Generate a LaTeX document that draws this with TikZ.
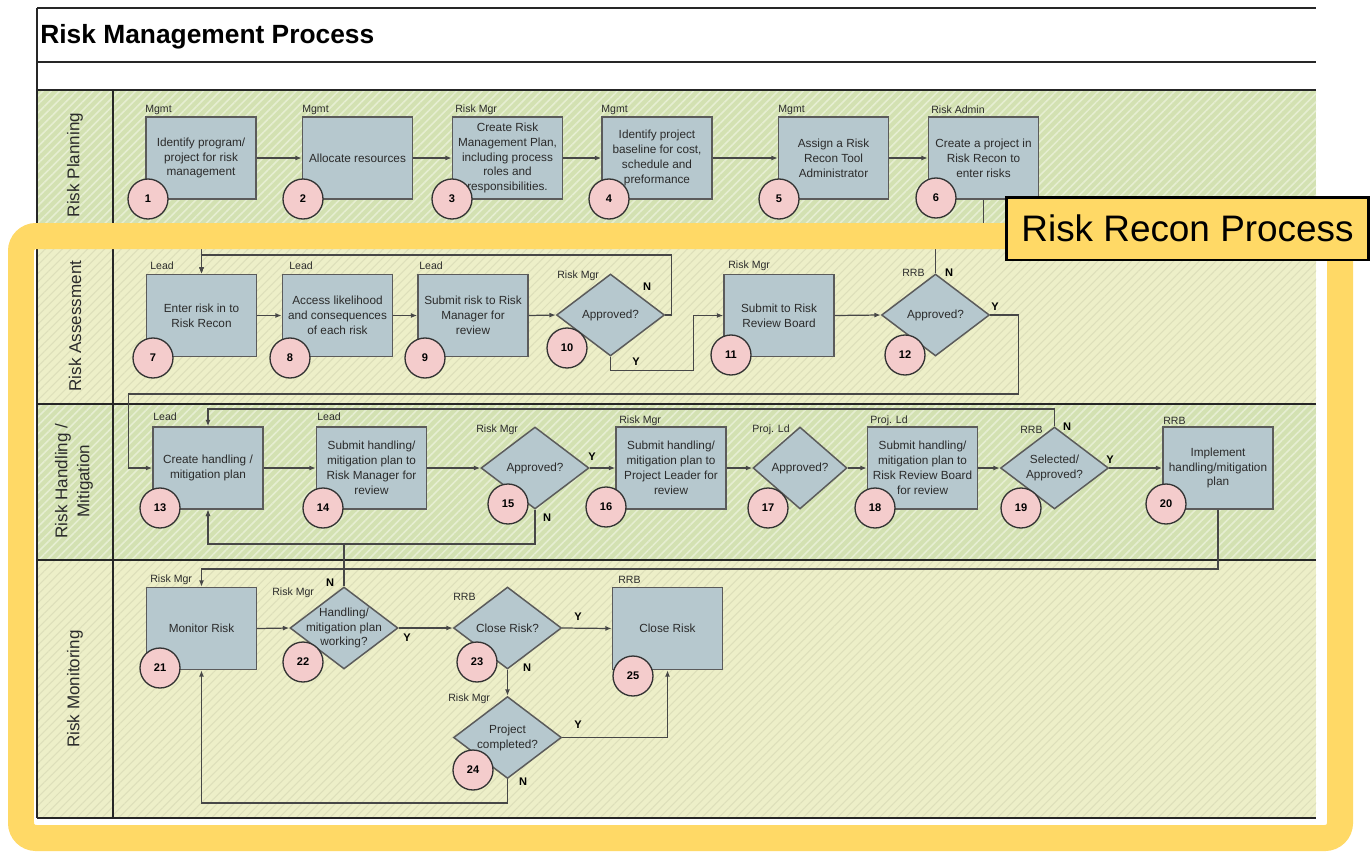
\documentclass[tikz,border=0pt]{standalone}
\usepackage{fontspec}
\setmainfont{Liberation Sans}
\usepackage{tikz}
\usetikzlibrary{shapes.geometric, arrows.meta, patterns.meta}
\definecolor{taskfill}{HTML}{B6C8CE}
\definecolor{taskline}{HTML}{5B5B5B}
\definecolor{numfill}{HTML}{F4CCCC}
\definecolor{flowline}{HTML}{474747}
\definecolor{inktext}{HTML}{2B2B2B}
\definecolor{lanegreen}{HTML}{D3E1B2}
\definecolor{stripegreen}{HTML}{E6EED2}
\definecolor{laneyellow}{HTML}{EDEFC8}
\definecolor{stripeyellow}{HTML}{DDDFBA}
\definecolor{reconyellow}{HTML}{FFD966}
\tikzstyle{task} = [rectangle, draw=taskline, line width=0.85pt, fill=taskfill,
                 minimum width=2.2cm, minimum height=1.64cm, inner sep=1pt,
                 align=center, text=inktext, font=\fontsize{6.7}{8.5}\selectfont]
\tikzstyle{decision} = [diamond, draw=taskline, line width=0.85pt, fill=taskfill,
                 minimum width=2.16cm, minimum height=1.64cm, inner sep=0pt]
\tikzstyle{flow} = [draw=flowline, line width=0.7pt, -{Latex[length=3.6pt,width=2.8pt]}]
\tikzset{
	stepnum/.style={circle, draw=black!80, line width=0.75pt, fill=numfill,
		minimum size=0.8cm, inner sep=0pt, font=\bfseries\fontsize{6.3}{7}\selectfont},
	role/.style={anchor=west, inner sep=0pt, text=inktext, font=\fontsize{6}{7}\selectfont},
	yn/.style={inner sep=0pt, font=\bfseries\fontsize{6.3}{7}\selectfont},
	asks/.style={label={[align=center, inner sep=0pt, text=inktext,
		font=\fontsize{6.7}{8.5}\selectfont]center:#1}},
	greenlane/.style={preaction={fill=lanegreen},
		pattern={Lines[angle=45,distance=3.4pt,line width=0.9pt]}, pattern color=stripegreen},
	yellowlane/.style={preaction={fill=laneyellow},
		pattern={Lines[angle=45,distance=3.4pt,line width=0.6pt]}, pattern color=stripeyellow},
	lanename/.style={rotate=90, align=center, text=inktext, font=\fontsize{9.7}{12.5}\selectfont},
	rule/.style={line width=0.8pt, black!85},
}

\begin{document}
\begin{tikzpicture}[x=0.02cm, y=-0.02cm]
\useasboundingbox (0,0) rectangle (1372,852);
\fill[white] (0,0) rectangle (1372,852);

% swim lanes
\path[greenlane] (37,90) rectangle (1316,243);
\path[yellowlane] (37,243) rectangle (1316,404);
\path[greenlane] (37,404) rectangle (1316,560);
\path[yellowlane] (37,560) rectangle (1316,818);
\foreach \y in {8, 62, 90, 243, 404, 560, 818}
	\draw[rule] (37,\y) -- (1316,\y);
\draw[rule] (37,8) -- (37,818);
\draw[rule] (113,90) -- (113,818);

\node [anchor=base west, inner sep=0pt, font=\bfseries\fontsize{15}{18}\selectfont]
	at (40,43) (title) {Risk Management Process};
\node [lanename] at (75,165) (lane1) {Risk Planning};
\node [lanename] at (75,326) (lane2) {Risk Assessment};
\node [lanename] at (74,481) (lane3) {Risk Handling /\\Mitigation};
\node [lanename] at (75,689) (lane4) {Risk Monitoring};

% planning
\node [task] at (201,158) (n1) {Identify program/\\project for risk\\management};
\node [task] at (357.5,158) (n2) {Allocate resources};
\node [task] at (507.5,158) (n3) {Create Risk\\Management Plan,\\including process\\roles and\\responsibilities.};
\node [task] at (657,158) (n4) {Identify project\\baseline for cost,\\schedule and\\preformance};
\node [task] at (833.5,158) (n5) {Assign a Risk\\Recon Tool\\Administrator};
\node [task] at (983.5,158) (n6) {Create a project in\\Risk Recon to\\enter risks};

% assessment
\node [task] at (201.5,315.5) (n7) {Enter risk in to\\Risk Recon};
\node [task] at (337.5,315.5) (n8) {Access likelihood\\and consequences\\of each risk};
\node [task] at (473,315.5) (n9) {Submit risk to Risk\\Manager for\\review};
\node [decision, asks={Approved?}] at (610.5,315) (d10) {};
\node [task] at (779,315.5) (n11) {Submit to Risk\\Review Board};
\node [decision, asks={Approved?}] at (935.5,315) (d12) {};

% handling / mitigation
\node [task] at (208,468) (n13) {Create handling /\\mitigation plan};
\node [task] at (371.5,468) (n14) {Submit handling/\\mitigation plan to\\Risk Manager for\\review};
\node [decision, asks={Approved?}] at (535,468) (d15) {};
\node [task] at (671,468) (n16) {Submit handling/\\mitigation plan to\\Project Leader for\\review};
\node [decision, minimum width=1.88cm, asks={Approved?}] at (800,468) (d17) {};
\node [task] at (922.5,468) (n18) {Submit handling/\\mitigation plan to\\Risk Review Board\\for review};
\node [decision, asks={Selected/\\Approved?}] at (1054.5,468) (d19) {};
\node [task] at (1218,468) (n20) {Implement\\handling/mitigation\\plan};

% monitoring
\node [task] at (201.5,628.5) (n21) {Monitor Risk};
\node [decision, asks={Handling/\\mitigation plan\\working?}] at (344,628) (d22) {};
\node [decision, asks={Close Risk?}] at (507.5,628) (d23) {};
\node [decision, asks={Project\\completed?}] at (507.5,737.5) (d24) {};
\node [task] at (667.5,628.5) (n25) {Close Risk};

\coordinate (top7) at (201.5,240);
\coordinate (loop7) at (201.5,255);
\coordinate (top13) at (208,409);
\coordinate (foot13) at (208,544);
\coordinate (top21) at (201.5,569);
\coordinate (foot21) at (201.5,803);

\draw[flow] (n1.east) -- (n2.west);
\draw[flow] (n2.east) -- (n3.west);
\draw[flow] (n3.east) -- (n4.west);
\draw[flow] (n4.east) -- (n5.west);
\draw[flow] (n5.east) -- (n6.west);
\draw[flow] (n6.south) |- (top7) -- (n7.north);
\draw[flow] (d12.north) |- (top7) -- (n7.north);

\draw[flow] (n7.east) -- (n8.west);
\draw[flow] (n8.east) -- (n9.west);
\draw[flow] (n9.east) -- (d10.west);
\draw[flow] (d10.east) -- ++(6,0) |- (loop7) -- (n7.north);
\draw[flow] (d10.south) |- ++(83,14) |- (n11.west);
\draw[flow] (n11.east) -- (d12.west);
\draw[flow] (d12.east) -- ++(28,0) |- ++(-890,79) |- (n13.west);

\draw[flow] (n13.east) -- (n14.west);
\draw[flow] (n14.east) -- (d15.west);
\draw[flow] (d15.east) -- (n16.west);
\draw[flow] (n16.east) -- (d17.west);
\draw[flow] (d17.east) -- (n18.west);
\draw[flow] (n18.east) -- (d19.west);
\draw[flow] (d19.east) -- (n20.west);
\draw[flow] (d19.north) |- (top13) -- (n13.north);
\draw[flow] (d15.south) |- (foot13) -- (n13.south);
\draw[flow] (d22.north) |- (foot13) -- (n13.south);
\draw[flow] (n20.south) |- (top21) -- (n21.north);

\draw[flow] (n21.east) -- (d22.west);
\draw[flow] (d22.east) -- (d23.west);
\draw[flow] (d23.east) -- (n25.west);
\draw[flow] (d23.south) -- (d24.north);
\draw[flow] (d24.east) -| (n25.south);
\draw[flow] (d24.south) |- (foot21) -- (n21.south);

% step numbers
\foreach \x/\y/\n in {148/199/1, 303/199/2, 452/199/3, 609/199/4, 779/199/5, 936/198/6,
	153/358/7, 290/358/8, 425/358/9, 567/348/10, 731/355/11, 905/355/12,
	160/508/13, 323/508/14, 508/504/15, 606/507/16, 768/508/17, 875/508/18, 1021/508/19, 1166/504/20,
	160/668/21, 303/662/22, 477/662/23, 473/770/24, 633/676/25}
	\node [stepnum] at (\x,\y) (c\n) {\n};

% who does it
\foreach \x/\y/\n/\who in {145/110/1/Mgmt, 302/110/2/Mgmt, 455/110/3/Risk Mgr, 601/110/4/Mgmt,
	778/110/5/Mgmt, 931/110/6/Risk Admin, 150/266/7/Lead, 289/266/8/Lead, 419/266/9/Lead,
	557/276/10/Risk Mgr, 728/266/11/Risk Mgr, 902/273/12/RRB, 153/417/13/Lead, 317/417/14/Lead,
	476/430/15/Risk Mgr, 619/421/16/Risk Mgr, 752/430/17/Proj. Ld, 870/421/18/Proj. Ld,
	1020/430/19/RRB, 1163/421/20/RRB, 150/580/21/Risk Mgr, 272/593/22/Risk Mgr,
	453/597/23/RRB, 448/699/24/Risk Mgr, 618/580/25/RRB}
	\node [role] at (\x,\y) (r\n) {\who};

% yes / no
\foreach \x/\y/\d/\t in {647/287/10/N, 636/362/10/Y, 949/273/12/N, 995/307/12/Y,
	592/457/15/Y, 547/518/15/N, 1067/427/19/N, 1110/460/19/Y, 330/583/22/N, 407/638/22/Y,
	578/617/23/Y, 527/668/23/N, 578/725/24/Y, 523/782/24/N}
	\node [yn] at (\x,\y) (yn\d\t) {\t};

% risk recon frame
\draw[reconyellow, line width=0.52cm, rounded corners=0.3cm] (21,236) rectangle (1340,838);
\node [draw=black, line width=1.7pt, fill=reconyellow, minimum width=7.26cm, minimum height=1.26cm,
	inner sep=0pt, font=\fontsize{21}{25}\selectfont] at (1187.5,228.5) (recon) {Risk Recon Process};

\end{tikzpicture}
\end{document}
